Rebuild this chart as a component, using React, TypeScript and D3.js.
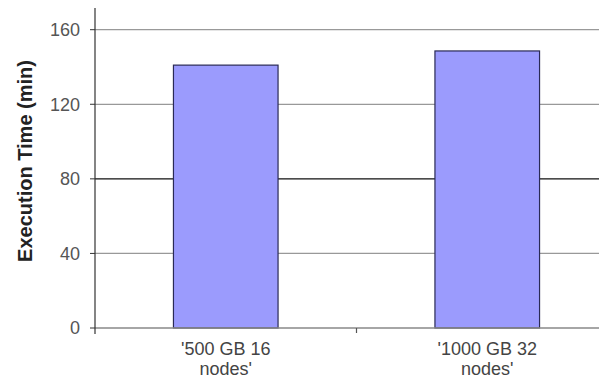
import React from "react";
import * as d3 from "d3";

const categories = ["'500 GB 16 nodes'", "'1000 GB 32 nodes'"];
const categoryLines = [["'500 GB 16", "nodes'"], ["'1000 GB 32", "nodes'"]];
const values = [141, 148.6];
const yTicks = [0, 40, 80, 120, 160];

export default function App() {
  const W = 599, H = 380;
  const x0 = 95, x1 = 618, yTop = 8;
  const y = d3.scaleLinear().domain([0, 160]).range([328, 29.7]);
  const x = d3.scaleBand().domain(categories).range([x0, x1]).paddingInner(0.6).paddingOuter(0.3);
  const band = d3.scaleBand().domain(categories).range([x0, x1]);
  const font = "Arial, 'Liberation Sans', sans-serif";
  return (
    <svg width={W} height={H} style={{ position: "absolute", left: 0, top: 0, background: "#fff" }}>
      {yTicks.map((t) => (
        <g key={t}>
          {t > 0 && (
            <line x1={x0} x2={W} y1={y(t)} y2={y(t)} stroke={t === 80 ? "#111" : "#999"} strokeWidth={1.2} />
          )}
          <line x1={x0 - 5} x2={x0} y1={y(t)} y2={y(t)} stroke="#333" strokeWidth={1} />
          <text x={80} y={y(t)} dy="0.36em" textAnchor="end" fontFamily={font} fontSize={18} fill="#555">
            {t}
          </text>
        </g>
      ))}
      {categories.map((c, i) => (
        <rect
          key={c}
          x={x(c)}
          y={y(values[i])}
          width={x.bandwidth()}
          height={y(0) - y(values[i])}
          fill="#9b9bfd"
          stroke="#2a2a55"
          strokeWidth={1.2}
        />
      ))}
      <line x1={x0} x2={W} y1={y(0)} y2={y(0)} stroke="#888" strokeWidth={1.5} />
      <line x1={x0} x2={x0} y1={yTop} y2={y(0) + 6} stroke="#333" strokeWidth={1.2} />
      {categories.slice(1).map((c) => (
        <line key={c} x1={band(c)} x2={band(c)} y1={y(0)} y2={y(0) + 5} stroke="#555" strokeWidth={1.2} />
      ))}
      {categories.map((c, i) => {
        const cx = (x(c) as number) + x.bandwidth() / 2;
        return (
          <text key={c} x={cx} textAnchor="middle" fontFamily={font} fontSize={18} fill="#444">
            <tspan x={cx} y={355}>{categoryLines[i][0]}</tspan>
            <tspan x={cx} y={375}>{categoryLines[i][1]}</tspan>
          </text>
        );
      })}
      <text
        transform={`translate(31.5,161) rotate(-90)`}
        textAnchor="middle"
        fontFamily={font}
        fontSize={20}
        fontWeight="bold"
        fill="#222"
      >
        Execution Time (min)
      </text>
    </svg>
  );
}
